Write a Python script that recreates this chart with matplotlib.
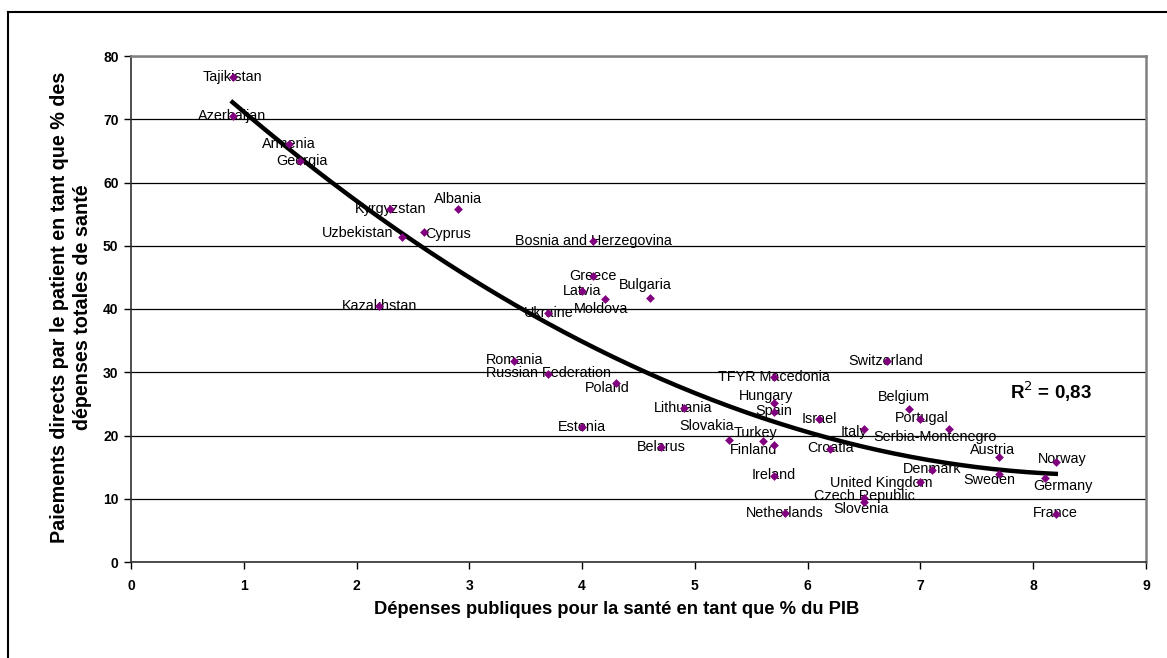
import numpy as np
import matplotlib.pyplot as plt
from matplotlib.lines import Line2D

plt.rcParams['font.family'] = ['Liberation Sans', 'DejaVu Sans']

# data
countries = ['Tajikistan', 'Azerbaijan', 'Armenia', 'Georgia', 'Kyrgyzstan', 'Albania',
             'Uzbekistan', 'Cyprus', 'Bosnia and Herzegovina', 'Greece', 'Latvia', 'Moldova',
             'Bulgaria', 'Ukraine', 'Kazakhstan', 'Romania', 'Russian Federation', 'Poland',
             'Lithuania', 'Estonia', 'Belarus', 'Slovakia', 'Turkey', 'Finland', 'Hungary',
             'Spain', 'TFYR Macedonia', 'Ireland', 'Netherlands', 'Israel', 'Croatia',
             'Switzerland', 'Italy', 'Belgium', 'Portugal', 'Serbia-Montenegro', 'Austria',
             'Norway', 'Sweden', 'Germany', 'Denmark', 'United Kingdom', 'Czech Republic',
             'Slovenia', 'France']
public_spend = [0.9, 0.9, 1.4, 1.5, 2.3, 2.9,
                2.4, 2.6, 4.1, 4.1, 4.0, 4.2,
                4.6, 3.7, 2.2, 3.4, 3.7, 4.3,
                4.9, 4.0, 4.7, 5.3, 5.6, 5.7, 5.7,
                5.7, 5.7, 5.7, 5.8, 6.1, 6.2,
                6.7, 6.5, 6.9, 7.0, 7.25, 7.7,
                8.2, 7.7, 8.1, 7.1, 7.0, 6.5,
                6.5, 8.2]
oop_share = [76.7, 70.5, 66.1, 63.4, 55.8, 55.8,
             51.4, 52.2, 50.8, 45.2, 42.8, 41.6,
             41.7, 39.4, 40.5, 31.8, 29.7, 28.3,
             24.3, 21.3, 18.2, 19.3, 19.1, 18.5, 25.1,
             23.7, 29.2, 13.6, 7.7, 22.6, 17.9,
             31.8, 21.0, 24.2, 22.6, 21.0, 16.6,
             15.8, 13.9, 13.3, 14.5, 12.6, 10.1,
             9.5, 7.6]
r2_text = 'R$^2$ = 0,83'

# label offsets in pixels (dx, dy down), hand placed like the original
label_shift = {
    'Georgia': (2, 0), 'Albania': (0, -10), 'Uzbekistan': (-44, -4), 'Cyprus': (24, 2),
    'Moldova': (-4, 10), 'Bulgaria': (-4, -13), 'Romania': (0, -1), 'Russian Federation': (0, -1),
    'Poland': (-9, 5), 'Slovakia': (-22, -14), 'Turkey': (-7, -8), 'Finland': (-20, 5),
    'Hungary': (-8, -7), 'Spain': (0, -1), 'Ireland': (0, -1), 'Croatia': (0, -1),
    'Switzerland': (-1, 0), 'Italy': (-10, 3), 'Belgium': (-5, -12), 'Portugal': (1, -1),
    'Serbia-Montenegro': (-14, 8), 'Austria': (-7, -7), 'Norway': (6, -3), 'Sweden': (-10, 6),
    'Germany': (18, 8), 'Denmark': (0, -1), 'United Kingdom': (-39, 1), 'Czech Republic': (0, -2),
    'Slovenia': (-3, 7), 'France': (0, -1),
}

x = np.array(public_spend)
y = np.array(oop_share)

fig = plt.figure(figsize=(11.67, 6.58), dpi=100)
ax = fig.add_axes([131/1167, 1 - 562/658, (1146-131)/1167, (562-56)/658])

# polynomial (order 2) trend line, as in Excel
coef = np.polyfit(x, y, 2)
xs = np.linspace(x.min(), x.max(), 200)
ax.plot(xs, np.polyval(coef, xs), color='black', lw=3.2, zorder=4)

ax.scatter(x, y, marker='D', s=20, color='#800080', zorder=5, linewidths=0)

for name, xi, yi in zip(countries, x, y):
    dx, dy = label_shift.get(name, (0, 0))
    ax.annotate(name, (xi, yi), xytext=(dx, -dy), textcoords='offset pixels',
                ha='center', va='center', fontsize=10.4, zorder=3)

ax.text(7.79, 26.9, r2_text, fontsize=13.5, fontweight='bold', ha='left', va='center')

ax.set_xlim(0, 9)
ax.set_ylim(0, 80)
ax.set_xticks(range(0, 10))
ax.set_yticks(range(0, 81, 10))
ax.yaxis.grid(True, color='black', lw=0.9)
ax.set_axisbelow(True)
for side in ['top', 'right']:
    ax.spines[side].set_color('#808080')
    ax.spines[side].set_linewidth(1.8)
for side in ['left', 'bottom']:
    ax.spines[side].set_color('#303030')
    ax.spines[side].set_linewidth(1.2)
ax.tick_params(direction='out', length=5, width=1, labelsize=10)
ax.tick_params(axis='y', pad=4)
ax.tick_params(axis='x', pad=7)
for lab in ax.get_xticklabels() + ax.get_yticklabels():
    lab.set_fontweight('bold')

fig.text(617/1167, 1 - 610/658, 'Dépenses publiques pour la santé en tant que % du PIB',
         ha='center', va='center', fontsize=13.2, fontweight='bold')
fig.text(71/1167, 1 - 307/658,
         'Paiements directs par le patient en tant que % des\ndépenses totales de santé',
         rotation=90, ha='center', va='center', fontsize=14.2, fontweight='bold',
         multialignment='center', linespacing=1.3)

# outer frame of the chart object
fig.add_artist(Line2D([8/1167, 8/1167], [0, 1 - 12/658], color='black', lw=1.5))
fig.add_artist(Line2D([8/1167, 1], [1 - 12/658, 1 - 12/658], color='black', lw=1.5))

fig.savefig('out.png', dpi=100)
